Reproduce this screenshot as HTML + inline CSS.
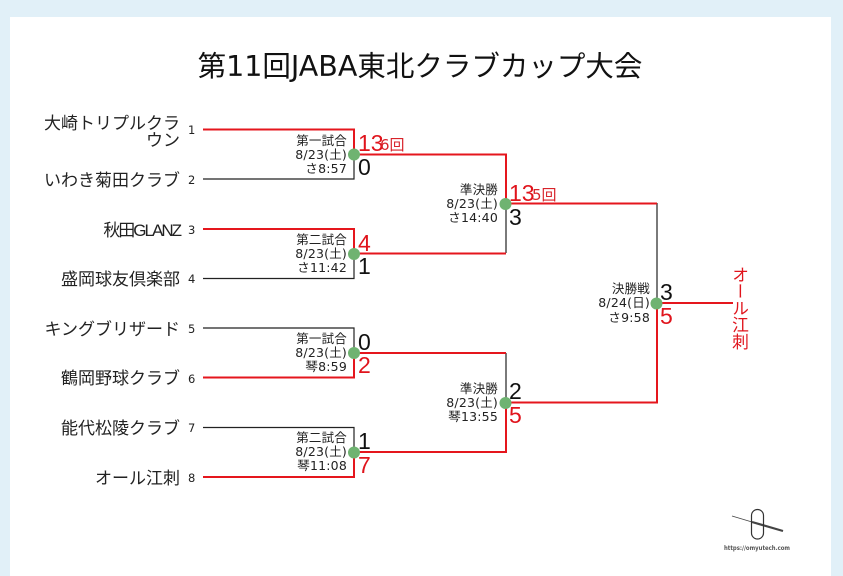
<!DOCTYPE html>
<html lang="ja"><head><meta charset="utf-8"><style>
html,body{margin:0;padding:0;width:843px;height:576px;overflow:hidden;background:#e1f0f8}
svg{display:block}
text{font-family:"DejaVu Sans","Noto Sans CJK JP",sans-serif}
.n{font-family:"Liberation Sans","Noto Sans CJK JP",sans-serif;font-size:17px;fill:#222;text-anchor:end}
.s{font-size:11.5px;fill:#222}
.m{font-size:12.5px;fill:#222;text-anchor:end;letter-spacing:.2px}
.b{font-family:"Liberation Sans",sans-serif;font-size:23px;fill:#111}
.r{font-family:"Liberation Sans",sans-serif;font-size:23px;fill:#e0141c}
.i{font-size:15px;fill:#d8232a}
.k{stroke:#222;stroke-width:1.2;fill:none}
.e{stroke:#e5161d;stroke-width:2;fill:none}
</style></head><body>
<svg width="843" height="576" viewBox="0 0 843 576" xmlns="http://www.w3.org/2000/svg">
<rect x="10" y="17" width="821" height="559" fill="#fff"/>
<text x="420" y="76" font-size="28.5" text-anchor="middle" fill="#111">第11回JABA東北クラブカップ大会</text>

<text class="n" x="180" y="129">大崎トリプルクラ</text>
<text class="n" x="180" y="146">ウン</text>
<text class="n" x="180" y="186">いわき菊田クラブ</text>
<text class="n" x="180" y="236" letter-spacing="-2">秋田GLANZ</text>
<text class="n" x="180" y="285">盛岡球友倶楽部</text>
<text class="n" x="180" y="335">キングブリザード</text>
<text class="n" x="180" y="384">鶴岡野球クラブ</text>
<text class="n" x="180" y="434">能代松陵クラブ</text>
<text class="n" x="180" y="484">オール江刺</text>

<text class="s" x="188" y="134">1</text>
<text class="s" x="188" y="184">2</text>
<text class="s" x="188" y="234">3</text>
<text class="s" x="188" y="283">4</text>
<text class="s" x="188" y="333">5</text>
<text class="s" x="188" y="383">6</text>
<text class="s" x="188" y="432">7</text>
<text class="s" x="188" y="482">8</text>

<!-- black lines -->
<path class="k" d="M203 179H354V154"/>
<path class="k" d="M203 278.500H354V254"/>
<path class="k" d="M203 328H354V353"/>
<path class="k" d="M203 427.500H354V452"/>
<path class="k" d="M506 203V253"/>
<path class="k" d="M506 353V402"/>
<path class="k" d="M657 203V303"/>

<!-- red lines -->
<path class="e" d="M203 129.500H354V154"/>
<path class="e" d="M203 229H354V254"/>
<path class="e" d="M203 377.500H354V353"/>
<path class="e" d="M203 477H354V452"/>
<path class="e" d="M354 154.500H506V203"/>
<path d="M506 253.500H354" class="e"/>
<path class="e" d="M354 353H506"/>
<path class="e" d="M354 452H506V402"/>
<path class="e" d="M506 203.500H657"/>
<path class="e" d="M506 402.500H657V303"/>
<path class="e" d="M657 303H733"/>

<circle cx="354" cy="154.500" r="6" fill="#6fb371"/>
<circle cx="354" cy="254" r="6" fill="#6fb371"/>
<circle cx="354" cy="353" r="6" fill="#6fb371"/>
<circle cx="354" cy="452.500" r="6" fill="#6fb371"/>
<circle cx="505.500" cy="204" r="6" fill="#6fb371"/>
<circle cx="505.500" cy="403" r="6" fill="#6fb371"/>
<circle cx="656.500" cy="303.500" r="6" fill="#6fb371"/>

<text class="m" x="347" y="145">第一試合</text>
<text class="m" x="347" y="159">8/23(土)</text>
<text class="m" x="347" y="173">さ8:57</text>
<text class="m" x="347" y="244">第二試合</text>
<text class="m" x="347" y="258">8/23(土)</text>
<text class="m" x="347" y="272">さ11:42</text>
<text class="m" x="347" y="343">第一試合</text>
<text class="m" x="347" y="357">8/23(土)</text>
<text class="m" x="347" y="371">琴8:59</text>
<text class="m" x="347" y="442">第二試合</text>
<text class="m" x="347" y="456">8/23(土)</text>
<text class="m" x="347" y="470">琴11:08</text>
<text class="m" x="498" y="194">準決勝</text>
<text class="m" x="498" y="208">8/23(土)</text>
<text class="m" x="498" y="222">さ14:40</text>
<text class="m" x="498" y="393">準決勝</text>
<text class="m" x="498" y="407">8/23(土)</text>
<text class="m" x="498" y="421">琴13:55</text>
<text class="m" x="650" y="293">決勝戦</text>
<text class="m" x="650" y="307">8/24(日)</text>
<text class="m" x="650" y="322">さ9:58</text>

<text class="r" x="358" y="151">13</text><text class="i" x="380" y="150">6回</text>
<text class="b" x="358" y="175">0</text>
<text class="r" x="358" y="251">4</text>
<text class="b" x="358" y="274">1</text>
<text class="b" x="358" y="350">0</text>
<text class="r" x="358" y="373">2</text>
<text class="b" x="358" y="449">1</text>
<text class="r" x="358" y="473">7</text>
<text class="r" x="509" y="201">13</text><text class="i" x="532" y="200">5回</text>
<text class="b" x="509" y="225">3</text>
<text class="b" x="509" y="399">2</text>
<text class="r" x="509" y="423">5</text>
<text class="b" x="660" y="300">3</text>
<text class="r" x="660" y="324">5</text>

<text x="739" y="266" font-size="16.800" style="fill:#e0141c;writing-mode:vertical-rl;font-family:'Liberation Sans','Noto Sans CJK JP',sans-serif">オール江刺</text>

<!-- logo -->
<path d="M732 516L752 522" stroke="#444" stroke-width="0.8" fill="none"/>
<path d="M752 522L783 531" stroke="#444" stroke-width="2.2" fill="none"/>
<rect x="751.500" y="509.500" width="12" height="29.500" rx="6" fill="none" stroke="#333" stroke-width="1.200"/>
<text x="757" y="550" font-size="6.500" font-weight="bold" fill="#555" text-anchor="middle" textLength="66" lengthAdjust="spacingAndGlyphs">https://omyutech.com</text>
</svg>
</body></html>
